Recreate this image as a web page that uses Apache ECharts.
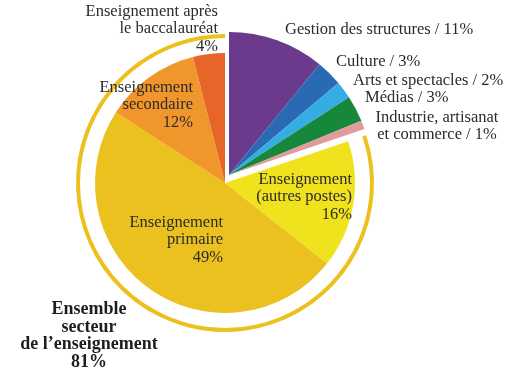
<!DOCTYPE html>
<html>
<head>
<meta charset="utf-8">
<script src="https://cdn.jsdelivr.net/npm/echarts@6/dist/echarts.min.js"></script>
<style>
html,body{margin:0;padding:0;background:#fff;}
#chart{width:515px;height:379px;}
</style>
</head>
<body>
<div id="chart"></div>
<script>
// ---- Data ----
const categories = [
  'Gestion des structures',
  'Culture',
  'Arts et spectacles',
  'Médias',
  'Industrie, artisanat\net commerce',
  'Enseignement\n(autres postes)',
  'Enseignement\nprimaire',
  'Enseignement\nsecondaire',
  'Enseignement après\nle baccalauréat'
];
const values = [11, 3, 2, 3, 1, 16, 49, 12, 4];
const isTeaching = [false, false, false, false, false, true, true, true, true];
const totalLabel = 'Ensemble\nsecteur\nde l’enseignement';
const totalValue = 81;

// ---- Styles ----
const palette = ['#6b3a8c', '#2a6ab4', '#36ade2', '#17873b', '#e09c9c',
                 '#f1e21e', '#ebc11f', '#f0962b', '#e8652a'];
const ringColor = '#ecc11e';
const textColor = '#2b2b2b';
const FONT = '"Liberation Serif", "DejaVu Serif", serif';

// label placements (layout only)
const labelPos = [
  {x: 285, y: 30, align: 'left'},
  {x: 336, y: 62, align: 'left'},
  {x: 353, y: 81, align: 'left'},
  {x: 365, y: 98, align: 'left'},
  {x: 437, y: 126, align: 'center'},
  {x: 352, y: 197, align: 'right'},
  {x: 223, y: 240, align: 'right'},
  {x: 193, y: 105, align: 'right'},
  {x: 218, y: 29, align: 'right'}
];

const transparent = 'rgba(0,0,0,0)';
const otherSum = values.filter((v, i) => !isTeaching[i]).reduce((a, b) => a + b, 0);
const teachSum = values.filter((v, i) => isTeaching[i]).reduce((a, b) => a + b, 0);

const otherData = [];
const teachData = [];
values.forEach((v, i) => {
  if (!isTeaching[i]) otherData.push({value: v, name: categories[i], itemStyle: {color: palette[i]}});
});
otherData.push({value: teachSum, name: '_t', itemStyle: {color: transparent}});
teachData.push({value: otherSum, name: '_o', itemStyle: {color: transparent}});
values.forEach((v, i) => {
  if (isTeaching[i]) teachData.push({value: v, name: categories[i], itemStyle: {color: palette[i]}});
});
const ringData = [
  {value: otherSum, name: '_ro', itemStyle: {color: transparent}},
  {value: teachSum, name: '_rt', itemStyle: {color: ringColor}}
];

const common = {
  type: 'pie',
  startAngle: 90,
  clockwise: true,
  minAngle: 0,
  avoidLabelOverlap: false,
  silent: true,
  z: 1,
  label: {show: false},
  labelLine: {show: false},
  emphasis: {disabled: true},
  itemStyle: {borderWidth: 0}
};

const graphics = values.map((v, i) => {
  const p = labelPos[i];
  const text = isTeaching[i] ? categories[i] + '\n' + v + '%' : categories[i] + ' / ' + v + '%';
  return {
    type: 'text',
    x: p.x, y: p.y,
    z: 100,
    silent: true,
    style: {
      text: text,
      fill: textColor,
      font: '16.5px ' + FONT,
      lineHeight: 17.5,
      align: p.align,
      verticalAlign: 'middle'
    }
  };
});
graphics.push({
  type: 'text', x: 89, y: 336, z: 100, silent: true,
  style: {
    text: totalLabel + '\n' + totalValue + '%',
    fill: '#1e1e1e',
    font: 'bold 18px ' + FONT,
    lineHeight: 17.5,
    align: 'center',
    verticalAlign: 'middle'
  }
});

const chart = echarts.init(document.getElementById('chart'), null, {renderer: 'canvas'});
chart.setOption({
  animation: false,
  backgroundColor: '#ffffff',
  series: [
    Object.assign({}, common, {center: [229, 175], radius: [0, 143], data: otherData}),
    Object.assign({}, common, {center: [225, 183], radius: [0, 130], data: teachData}),
    Object.assign({}, common, {center: [225, 183], radius: [145, 149], data: ringData})
  ],
  graphic: {elements: graphics}
});
</script>
</body>
</html>
